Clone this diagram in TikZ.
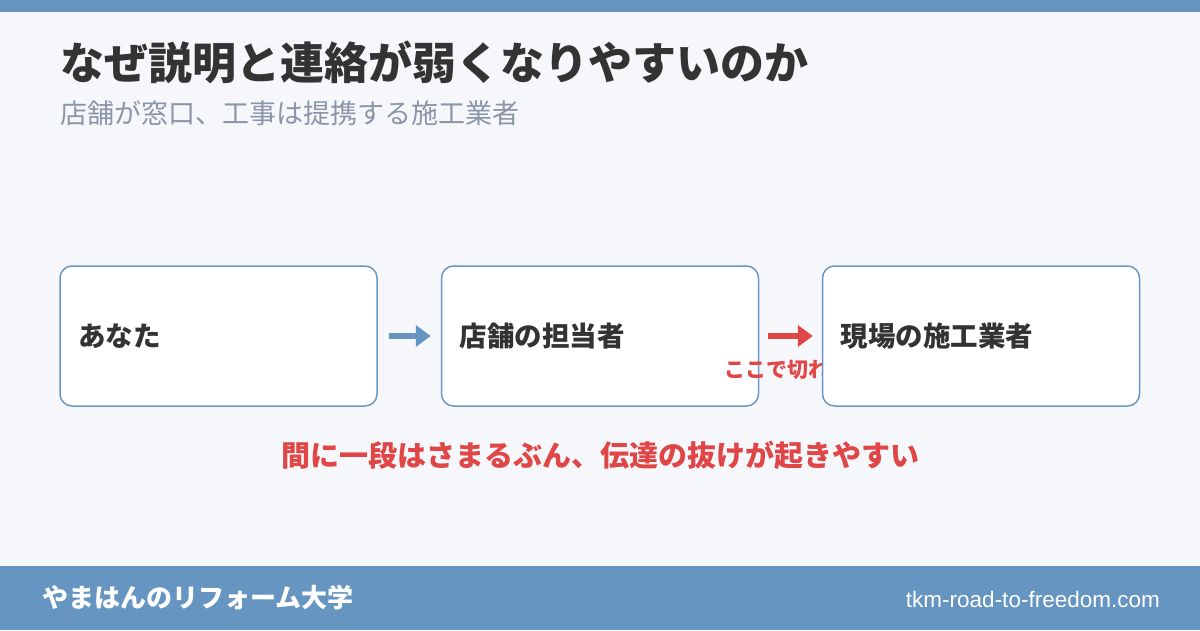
\documentclass[tikz,border=0pt]{standalone}
\usepackage{fontspec}
\setmainfont{Liberation Sans}
\newfontfamily\jp{Noto Sans CJK JP}
\usetikzlibrary{arrows.meta, positioning}

\definecolor{barblue}{HTML}{6595C0}
\definecolor{edgeblue}{HTML}{6A98C4}
\definecolor{pagebg}{HTML}{F6F7FB}
\definecolor{inkdark}{HTML}{333333}
\definecolor{inkgray}{HTML}{8B95A8}
\definecolor{alertred}{HTML}{E04646}

\newcommand{\fs}[1]{\fontsize{#1}{#1}\selectfont}

\begin{document}
\begin{tikzpicture}[
    x=1pt, y=-1pt,
    block/.style={
        rectangle, draw=edgeblue, line width=1.5pt, rounded corners=12pt,
        fill=white, minimum width=317pt, minimum height=140pt,
        text width=281pt, inner xsep=18pt, align=left,
        text=inkdark, font=\jp\bfseries\fs{27.5}
    },
    arrow/.style={-{Triangle[length=15pt,width=21pt]}, line width=6pt},
]
\useasboundingbox (0,0) rectangle (1200,630);
\fill[pagebg] (0,0) rectangle (1200,630);

% Bars
\fill[barblue] (0,0) rectangle (1200,12);
\fill[barblue] (0,566) rectangle (1200,630);

% Heading
\node[anchor=west, inner sep=0, text=inkdark, font=\jp\bfseries\fs{44}] (title) at (60,62) {なぜ説明と連絡が弱くなりやすいのか};
\node[anchor=west, inner sep=0, text=inkgray, font=\jp\fs{27}] (subtitle) at (60,113) {店舗が窓口、工事は提携する施工業者};

% Flow boxes
\node[block] (you) at (218.5,336) {あなた};
\node[block] (shop) at (600,336) {店舗の担当者};
\node[anchor=west, inner sep=0, text=alertred, font=\jp\bfseries\fs{21}] (cut) at (724,370) {ここで切れやすい};
\node[block] (site) at (981,336) {現場の施工業者};

% Arrows
\draw[arrow, barblue, shorten <=11pt, shorten >=10pt] (you) -- (shop);
\draw[arrow, alertred, shorten <=9pt, shorten >=9pt] (shop) -- (site);

% Note
\node[inner sep=0, text=alertred, font=\jp\bfseries\fs{29}] (note) at (600,455) {間に一段はさまるぶん、伝達の抜けが起きやすい};

% Footer
\node[anchor=west, inner sep=0, text=white, font=\jp\bfseries\fs{26}] (brand) at (42,598) {やまはんのリフォーム大学};
\node[anchor=east, inner sep=0, text=white, font=\fs{22.5}] (site url) at (1160,599) {tkm-road-to-freedom.com};

\end{tikzpicture}
\end{document}
